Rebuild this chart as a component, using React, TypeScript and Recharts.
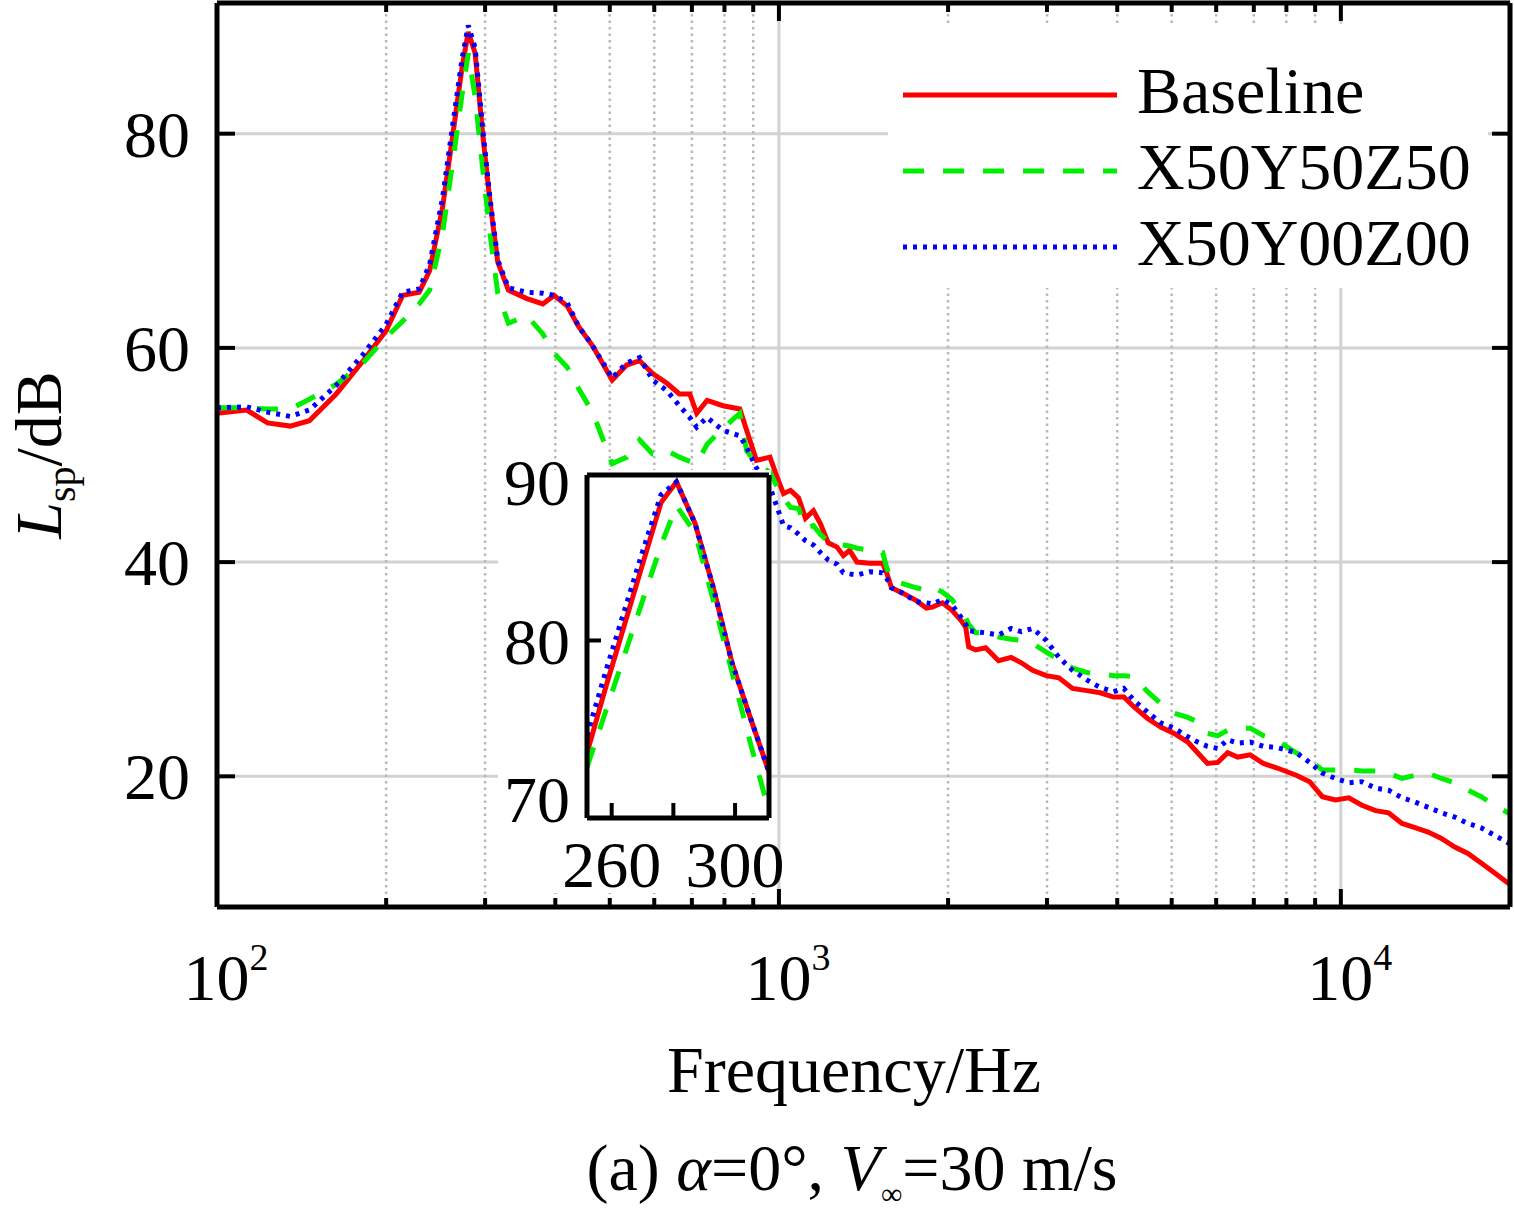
import React from "react";
import { Legend, Line, LineChart, ReferenceLine, XAxis, YAxis } from "recharts";

// frequency axis of the spectra (Hz)
const freq = [
  100, 113, 123, 135, 146, 163, 182, 200, 214, 229, 239, 252, 263, 273, 280,
  288, 297, 306, 316, 330, 356, 380, 398, 420, 440, 466, 505, 536, 565, 596,
  632, 665, 694, 714, 745, 795, 852, 876, 912,
  964, 993, 1019, 1049, 1084, 1115, 1152, 1185, 1224, 1269, 1302, 1336, 1377,
  1452, 1530, 1555, 1586, 1661, 1756, 1830, 1876, 1954, 2032, 2106, 2150, 2176,
  2239, 2333, 2460, 2590, 2700, 2828, 2990, 3150, 3330, 3530, 3730, 3940, 4110,
  4280, 4530, 4780, 5050, 5340, 5560, 5790, 6040, 6290, 6550, 6900, 7280, 7680,
  8330, 8800, 9270, 9780, 10330, 10900, 11530, 12160, 12850, 13550, 14300,
  15100, 15950, 16830, 17770, 18760, 20000,
];

const baseline = [
  53.9, 54.2, 53.0, 52.7, 53.2, 55.7, 58.8, 61.6, 64.9, 65.2, 67.2, 73.1, 80.0,
  86.2, 89.5, 87.5, 80.0, 73.7, 68.0, 65.4, 64.6, 64.1, 64.9, 63.9, 62.0, 60.2,
  57.0, 58.4, 58.8, 57.6, 56.7, 55.7, 55.7, 53.9, 55.1, 54.6, 54.3, 52.3, 49.5,
  49.8, 47.9, 46.4, 46.7, 46.0, 44.1, 44.8, 43.6, 41.8, 41.4, 40.6, 41.1, 40.0,
  39.9, 39.9, 39.0, 37.6, 37.1, 36.4, 35.7, 35.8, 36.2, 35.5, 34.6, 33.9, 32.1,
  31.8, 32.0, 30.8, 31.1, 30.6, 29.9, 29.4, 29.2, 28.2, 28.0, 27.8, 27.4, 27.4,
  26.5, 25.4, 24.6, 24.0, 23.2, 22.2, 21.2, 21.3, 22.2, 21.8, 22.0, 21.2, 20.8,
  20.1, 19.5, 18.1, 17.8, 18.0, 17.3, 16.8, 16.6, 15.6, 15.2, 14.8, 14.2, 13.4,
  12.8, 11.9, 11.0, 9.9,
];

const x50y50z50 = [
  54.4, 54.4, 54.3, 54.3, 55.2, 56.6, 58.6, 61.0, 62.5, 64.1, 65.4, 70.7, 77.5,
  83.7, 87.5, 83.4, 76.8, 70.7, 65.1, 62.3, 63.0, 61.3, 59.5, 58.2, 56.2, 54.0,
  49.2, 49.8, 51.4, 50.1, 50.4, 49.8, 49.4, 49.2, 51.0, 52.5, 53.9, 50.4, 49.2,
  48.4, 47.0, 46.0, 45.1, 45.0, 43.2, 43.4, 42.6, 41.9, 41.7, 41.6, 41.5, 41.3,
  41.1, 40.9, 39.5, 38.3, 38.0, 37.6, 37.4, 37.7, 37.2, 36.5, 35.4, 34.8, 34.2,
  33.4, 33.4, 33.0, 32.8, 32.7, 32.4, 31.6, 30.9, 30.1, 29.7, 29.6, 29.4, 29.4,
  29.3, 27.9, 26.8, 25.9, 25.5, 25.1, 24.0, 23.8, 24.3, 24.5, 24.5, 23.8, 23.4,
  22.2, 21.5, 20.6, 20.6, 20.6, 20.5, 20.5, 20.3, 19.8, 20.1, 20.3, 19.8, 19.4,
  18.7, 18.1, 17.3, 16.5,
];

const x50y00z00 = [
  54.4, 54.5, 54.0, 53.6, 54.2, 56.5, 59.4, 62.2, 65.2, 65.5, 67.8, 74.0, 81.0,
  87.0, 90.1, 88.0, 80.5, 74.0, 68.2, 65.6, 65.2, 65.1, 64.9, 64.2, 62.0, 60.2,
  57.2, 58.6, 59.1, 57.0, 56.0, 54.6, 53.5, 52.6, 53.5, 52.3, 51.8, 50.7, 48.8,
  47.0, 45.1, 43.4, 43.2, 42.6, 42.0, 41.6, 40.9, 40.2, 39.8, 39.0, 38.9, 38.8,
  39.1, 39.0, 38.5, 37.6, 37.1, 36.3, 36.2, 36.1, 36.5, 36.0, 34.9, 34.2, 33.6,
  33.5, 33.4, 33.2, 33.8, 33.5, 33.8, 32.7, 31.1, 29.9, 29.0, 28.3, 27.9, 28.2,
  27.1, 26.0, 25.0, 24.5, 23.7, 23.2, 22.8, 22.6, 23.4, 23.1, 23.2, 22.8, 22.7,
  22.2, 21.3, 20.3, 19.8, 19.4, 19.5, 18.9, 18.7, 18.0, 17.6, 17.1, 16.6, 16.2,
  15.6, 15.2, 14.5, 13.7,
];

// zoomed peak (inset)
const insetFreq = [252, 258, 264, 270, 276, 281, 287, 293, 299, 305, 311];
const insetBaseline = [72.9, 77.0, 80.9, 84.8, 88.7, 90.0, 87.4, 83.3, 78.6, 75.1, 71.7];
const insetX50Y50Z50 = [72.0, 75.5, 79.0, 82.5, 86.0, 88.5, 86.8, 82.5, 78.0, 73.5, 69.2];
const insetX50Y00Z00 = [74.0, 78.0, 81.8, 85.6, 89.2, 90.0, 87.4, 83.3, 78.6, 75.1, 71.7];

// ticks
const xMajorTicks = [100, 1000, 10000];
const xExponents = ["2", "3", "4"];
const xMinorTicks = [
  200, 300, 400, 500, 600, 700, 800, 900,
  2000, 3000, 4000, 5000, 6000, 7000, 8000, 9000,
];
const xTicks = [...xMajorTicks, ...xMinorTicks].sort((a, b) => a - b);
const yTicks = [20, 40, 60, 80];
const insetXTicks = [260, 280, 300];
const insetXLabels = ["260", "", "300"];
const insetYTicks = [70, 80, 90];
const insetYTickMarks = [80];

const SERIES = [
  { key: "baseline", name: "Baseline", color: "#ff0000", dash: undefined, width: 5 },
  { key: "x50y50z50", name: "X50Y50Z50", color: "#00ee00", dash: "21 19", width: 5 },
  { key: "x50y00z00", name: "X50Y00Z00", color: "#0000ff", dash: "4 6", width: 5 },
];

const mainData = freq.map((f, i) => ({
  f,
  baseline: baseline[i],
  x50y50z50: x50y50z50[i],
  x50y00z00: x50y00z00[i],
}));

const insetData = insetFreq.map((f, i) => ({
  f,
  baseline: insetBaseline[i],
  x50y50z50: insetX50Y50Z50[i],
  x50y00z00: insetX50Y00Z00[i],
}));

const FONT = "'Liberation Serif', 'Times New Roman', serif";
const FS = 66;
const GRID = "#d2d2d2";
const GRID_DOT = "#b9b9b9";
const FRAME = { stroke: "#000", strokeWidth: 5 };

function LeftTick(props: any) {
  const { x, y, payload } = props;
  return (
    <g>
      <line x1={x} x2={x + 18} y1={y} y2={y} stroke="#000" strokeWidth={4} />
      <text x={x - 27} y={y} dy="0.35em" textAnchor="end" fontSize={FS} fontFamily={FONT} fill="#000">
        {payload.value}
      </text>
    </g>
  );
}

function RightTick(props: any) {
  const { x, y } = props;
  return <line x1={x} x2={x - 18} y1={y} y2={y} stroke="#000" strokeWidth={4} />;
}

function BottomTick(props: any) {
  const { x, y, payload } = props;
  const idx = xMajorTicks.indexOf(payload.value);
  const len = idx >= 0 ? 18 : 9;
  return (
    <g>
      <line x1={x} x2={x} y1={y} y2={y - len} stroke="#000" strokeWidth={4} />
      {idx >= 0 && (
        <text x={x + 9} y={y + 93} textAnchor="middle" fontSize={FS} fontFamily={FONT} fill="#000">
          10
          <tspan fontSize={38} dy={-30}>{xExponents[idx]}</tspan>
        </text>
      )}
    </g>
  );
}

function TopTick(props: any) {
  const { x, y, payload } = props;
  const len = xMajorTicks.includes(payload.value) ? 18 : 9;
  return <line x1={x} x2={x} y1={y} y2={y + len} stroke="#000" strokeWidth={4} />;
}

function YTitle() {
  return (
    <text transform="rotate(-90 61 455)" x={61} y={455} textAnchor="middle" fontSize={FS} fontFamily={FONT} fill="#000">
      <tspan fontStyle="italic">L</tspan>
      <tspan fontSize={40} dy={14}>sp</tspan>
      <tspan dy={-14}>/dB</tspan>
    </text>
  );
}

function XTitles() {
  return (
    <g>
      <text x={854} y={1092} textAnchor="middle" fontSize={FS} fontFamily={FONT} fill="#000">
        Frequency/Hz
      </text>
      <text x={852} y={1190} textAnchor="middle" fontSize={FS} fontFamily={FONT} fill="#000">
        {"(a) "}
        <tspan fontStyle="italic">α</tspan>
        {"=0°, "}
        <tspan fontStyle="italic">V</tspan>
        <tspan fontSize={30} dy={14}>∞</tspan>
        <tspan dy={-14}>=30 m/s</tspan>
      </text>
    </g>
  );
}

function LegendBox() {
  return (
    <svg width={600} height={264} style={{ display: "block", background: "#fff" }}>
      {SERIES.map((s, i) => (
        <g key={s.key}>
          <line
            x1={15}
            x2={229}
            y1={71 + i * 76}
            y2={71 + i * 76}
            stroke={s.color}
            strokeWidth={s.width}
            strokeDasharray={s.dash}
          />
          <text x={249} y={89 + i * 76} fontSize={FS} fontFamily={FONT} fill="#000">
            {s.name}
          </text>
        </g>
      ))}
    </svg>
  );
}

function InsetLeftTick(props: any) {
  const { x, y, payload } = props;
  return (
    <g>
      {insetYTickMarks.includes(payload.value) && (
        <line x1={x} x2={x + 14} y1={y} y2={y} stroke="#000" strokeWidth={4} />
      )}
      <text x={x - 17} y={y} dy="0.35em" textAnchor="end" fontSize={FS} fontFamily={FONT} fill="#000">
        {payload.value}
      </text>
    </g>
  );
}

function InsetBottomTick(props: any) {
  const { x, y, payload } = props;
  const label = insetXLabels[insetXTicks.indexOf(payload.value)];
  return (
    <g>
      <line x1={x} x2={x} y1={y} y2={y - 15} stroke="#000" strokeWidth={4} />
      {label && (
        <text x={x} y={y + 69} textAnchor="middle" fontSize={FS} fontFamily={FONT} fill="#000">
          {label}
        </text>
      )}
    </g>
  );
}

function Inset() {
  return (
    <>
      <div style={{ position: "absolute", left: 498, top: 470, width: 273, height: 423, background: "#fff" }} />
      <div style={{ position: "absolute", left: 498, top: 435 }}>
        <LineChart width={290} height={478} data={insetData} margin={{ top: 39, right: 18, left: 0, bottom: 0 }}>
          {SERIES.map((s) => (
            <Line
              key={s.key}
              dataKey={s.key}
              type="linear"
              stroke={s.color}
              strokeWidth={s.width}
              strokeDasharray={s.dash}
              dot={false}
              activeDot={false}
              isAnimationActive={false}
            />
          ))}
          <XAxis
            dataKey="f"
            type="number"
            domain={[252, 311]}
            allowDataOverflow
            ticks={insetXTicks}
            interval={0}
            height={95}
            tickSize={0}
            tickMargin={0}
            tickLine={false}
            tick={InsetBottomTick}
            axisLine={FRAME}
          />
          <XAxis
            xAxisId="top"
            orientation="top"
            dataKey="f"
            type="number"
            domain={[252, 311]}
            allowDataOverflow
            height={1}
            tick={false}
            tickLine={false}
            axisLine={FRAME}
          />
          <YAxis
            type="number"
            domain={[68.8, 90.44]}
            allowDataOverflow
            ticks={insetYTicks}
            interval={0}
            width={89}
            tickSize={0}
            tickMargin={0}
            tickLine={false}
            tick={InsetLeftTick}
            axisLine={FRAME}
          />
          <YAxis
            yAxisId="right"
            orientation="right"
            type="number"
            domain={[68.8, 90.44]}
            allowDataOverflow
            width={1}
            tick={false}
            tickLine={false}
            axisLine={FRAME}
          />
        </LineChart>
      </div>
    </>
  );
}

export default function App() {
  return (
    <div style={{ position: "absolute", left: 0, top: 0, width: 1514, height: 1213, background: "#fff" }}>
      <LineChart width={1514} height={1213} data={mainData} margin={{ top: 2, right: 3, left: 0, bottom: 0 }}>
        {yTicks.map((v) => (
          <ReferenceLine key={"h" + v} y={v} stroke={GRID} strokeWidth={3} zIndex={-50} />
        ))}
        {xMinorTicks.map((v) => (
          <ReferenceLine key={"m" + v} x={v} stroke={GRID_DOT} strokeWidth={2.5} strokeDasharray="2.5 4" zIndex={-50} />
        ))}
        {xMajorTicks.slice(1).map((v) => (
          <ReferenceLine key={"v" + v} x={v} stroke={GRID} strokeWidth={3} zIndex={-50} />
        ))}
        {SERIES.map((s) => (
          <Line
            key={s.key}
            name={s.name}
            dataKey={s.key}
            type="linear"
            stroke={s.color}
            strokeWidth={s.width}
            strokeDasharray={s.dash}
            dot={false}
            activeDot={false}
            isAnimationActive={false}
          />
        ))}
        <XAxis
          dataKey="f"
          type="number"
          scale="log"
          domain={[100, 20000]}
          allowDataOverflow
          ticks={xTicks}
          interval={0}
          height={306}
          tickSize={0}
          tickMargin={0}
          tickLine={false}
          tick={BottomTick}
          axisLine={FRAME}
          label={XTitles}
        />
        <XAxis
          xAxisId="top"
          orientation="top"
          dataKey="f"
          type="number"
          scale="log"
          domain={[100, 20000]}
          allowDataOverflow
          ticks={xTicks}
          interval={0}
          height={1}
          tickSize={0}
          tickMargin={0}
          tickLine={false}
          tick={TopTick}
          axisLine={FRAME}
        />
        <YAxis
          type="number"
          domain={[7.8, 92.2]}
          allowDataOverflow
          ticks={yTicks}
          interval={0}
          width={217}
          tickSize={0}
          tickMargin={0}
          tickLine={false}
          tick={LeftTick}
          axisLine={FRAME}
          label={YTitle}
        />
        <YAxis
          yAxisId="right"
          orientation="right"
          type="number"
          domain={[7.8, 92.2]}
          allowDataOverflow
          ticks={yTicks}
          interval={0}
          width={1}
          tickSize={0}
          tickMargin={0}
          tickLine={false}
          tick={RightTick}
          axisLine={FRAME}
        />
        <Legend
          layout="vertical"
          align="center"
          verticalAlign="middle"
          content={LegendBox}
          wrapperStyle={{ position: "absolute", left: 888, top: 24, width: 600, height: 264 }}
        />
      </LineChart>
      <Inset />
    </div>
  );
}
